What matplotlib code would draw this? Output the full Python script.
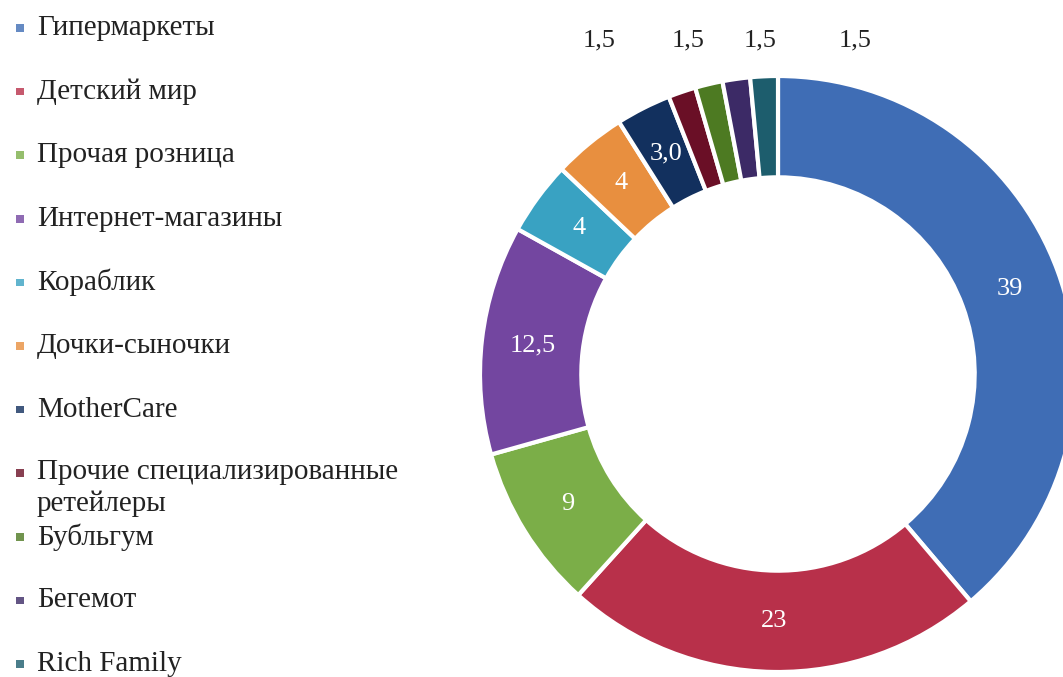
import matplotlib
matplotlib.use("Agg")
import matplotlib.pyplot as plt
import numpy as np

# shares of the children's goods market, %
labels = ["Гипермаркеты", "Детский мир", "Прочая розница", "Интернет-магазины",
          "Кораблик", "Дочки-сыночки", "MotherCare",
          "Прочие специализированные\nретейлеры", "Бубльгум", "Бегемот", "Rich Family"]
values = [39, 23, 9, 12.5, 4, 4, 3.0, 1.5, 1.5, 1.5, 1.5]
value_text = ["39", "23", "9", "12,5", "4", "4", "3,0", "1,5", "1,5", "1,5", "1,5"]
colors = ["#3f6db5", "#b8304a", "#7bae48", "#7346a0", "#39a2c2", "#e88f3f",
          "#12305e", "#6a0f26", "#4d7a22", "#3c2a66", "#1d5d6d"]

# small slices get their labels above the ring (x in data units)
outside_x = [-0.60, -0.30, -0.06, 0.26]
outside_y = 1.12

W, H = 1063, 677
fig = plt.figure(figsize=(W / 100, H / 100), dpi=100)
serif = "Liberation Serif"

# donut: centre (778, 374) px, radius 298 px
cx, cy, r = 778, 374, 298
ax = fig.add_axes([(cx - r) / W, (H - cy - r) / H, 2 * r / W, 2 * r / H])
wedges, _ = ax.pie(values, colors=colors, startangle=90, counterclock=False,
                   radius=1, wedgeprops=dict(width=0.34, edgecolor="white", linewidth=3))
ax.set_xlim(-1, 1)
ax.set_ylim(-1, 1)
ax.set_aspect("equal")
ax.axis("off")

k = 0
for i, w in enumerate(wedges):
    mid = np.deg2rad((w.theta1 + w.theta2) / 2)
    if values[i] >= 3:
        rr = 0.83
        ax.text(rr * np.cos(mid), rr * np.sin(mid), value_text[i], color="white",
                ha="center", va="center", fontsize=19, family=serif)
    else:
        ax.text(outside_x[k], outside_y, value_text[i], color="#222222",
                ha="center", va="center", fontsize=19, family=serif, clip_on=False)
        k += 1

# legend on the left, drawn in pixel coordinates
lax = fig.add_axes([0, 0, 1, 1], zorder=-1)
lax.set_xlim(0, W)
lax.set_ylim(H, 0)
lax.axis("off")
row_y = [28 + 63.6 * i for i in range(len(labels))]
lax.scatter([20] * len(labels), row_y, marker="s", s=30, c=colors, alpha=0.8, linewidths=0)
for lab, y in zip(labels, row_y):
    if "\n" in lab:
        lax.text(37, y - 14, lab, ha="left", va="top", fontsize=21, family=serif,
                 color="#222222", linespacing=1.25)
    else:
        lax.text(37, y, lab, ha="left", va="center", fontsize=21, family=serif,
                 color="#222222")

fig.savefig("out.png", dpi=100)
